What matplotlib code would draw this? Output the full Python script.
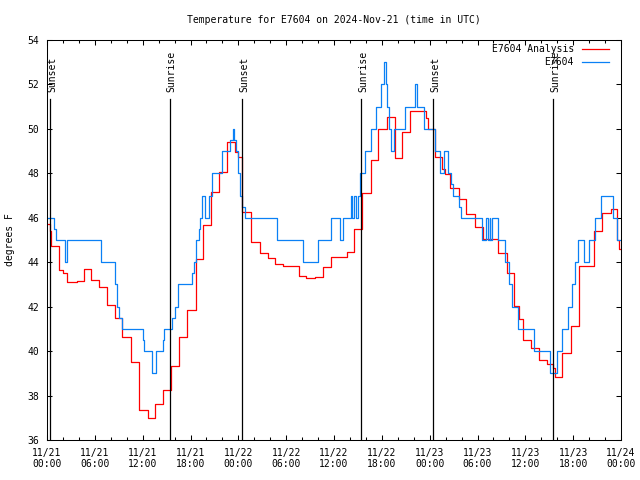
import numpy as np
import pandas as pd
import matplotlib
matplotlib.use("Agg")
import matplotlib.pyplot as plt
import matplotlib.dates as mdates

# hours after 2024-11-21 00:00 UTC, value holds until the next step
obs_hours = [0.00, 0.92, 1.19, 2.30, 2.57, 6.74, 8.53, 8.78, 9.03, 9.35,
             12.00, 12.17, 13.21, 13.64, 14.55, 14.68, 15.68, 16.06, 16.43, 18.23,
             18.38, 18.69, 19.07, 19.19, 19.41, 19.82, 20.26, 20.74, 21.99, 22.96,
             23.27, 23.46, 23.71, 24.02, 24.27, 24.52, 24.84, 28.81, 32.07, 34.03,
             35.59, 36.75, 37.17, 38.13, 38.32, 38.51, 38.70, 38.95, 39.26, 39.89,
             40.64, 41.27, 41.90, 42.33, 42.52, 42.71, 42.84, 43.09, 43.53, 44.91,
             46.10, 46.35, 47.35, 48.61, 49.30, 49.86, 50.24, 50.68, 50.93, 51.74,
             51.93, 54.53, 55.07, 55.26, 55.51, 55.63, 55.78, 56.61, 57.39, 57.89,
             58.27, 59.14, 61.09, 63.10, 63.91, 64.66, 65.35, 65.86, 66.23, 66.61,
             67.30, 67.99, 68.74, 69.49, 70.96, 71.44, 71.88]
obs_temp = [46, 45.5, 45, 44, 45, 44, 43, 42, 41.5, 41,
            40.5, 40, 39, 40, 40.5, 41, 41.5, 42, 43, 43.5,
            44, 45, 45.5, 46, 47, 46, 47, 48, 49, 49.5,
            50, 49.5, 49, 48, 47, 46.5, 46, 45, 44, 45,
            46, 45, 46, 47, 46, 47, 46, 47, 48, 49,
            50, 51, 52, 53, 52, 51, 50, 49, 50, 51,
            52, 51, 50, 49, 48, 49, 48, 47.5, 47, 46.5,
            46, 45, 46, 45, 46, 45, 46, 45, 44, 43,
            42, 41, 40, 39, 40, 41, 42, 43, 44, 45,
            44, 45, 46, 47, 46, 45, 45]

ana_hours = [0.00, 0.34, 0.56, 1.51, 2.04, 2.51, 3.73, 4.58, 5.46, 6.46,
             7.53, 8.59, 9.35, 10.54, 11.60, 12.61, 13.55, 14.55, 15.55, 16.56,
             17.56, 18.63, 19.51, 20.57, 21.58, 22.58, 23.64, 23.90, 24.40, 25.59,
             26.66, 27.66, 28.66, 29.64, 31.67, 32.53, 33.56, 34.56, 35.62, 37.63,
             38.51, 39.51, 40.64, 41.58, 42.65, 43.59, 44.59, 45.53, 47.48, 47.79,
             48.61, 49.49, 49.92, 50.55, 51.62, 52.56, 53.63, 54.63, 56.57, 57.64,
             58.64, 59.21, 59.71, 60.65, 61.72, 62.72, 63.47, 63.66, 64.66, 65.67,
             66.67, 68.61, 69.62, 70.75, 71.50, 71.79, 71.88]
ana_temp = [45.7, 45.4, 44.73, 43.65, 43.5, 43.1, 43.15, 43.68, 43.2, 42.87,
            42.06, 41.48, 40.65, 39.5, 37.35, 36.97, 37.6, 38.25, 39.33, 40.62,
            41.84, 44.15, 45.68, 47.15, 48.08, 49.4, 48.95, 48.75, 46.27, 44.93,
            44.4, 44.18, 43.9, 43.83, 43.38, 43.28, 43.32, 43.77, 44.25, 44.48,
            45.5, 47.1, 48.6, 49.98, 50.52, 48.68, 49.88, 50.82, 50.5, 50.0,
            48.72, 48.2, 47.97, 47.33, 46.83, 46.17, 45.6, 45.03, 44.4, 43.53,
            42.03, 41.43, 40.5, 40.13, 39.6, 39.42, 39.26, 38.82, 39.9, 41.15,
            43.83, 45.4, 46.23, 46.38, 45.0, 44.6, 44.6]

sun_hours = [0.42, 15.39, 24.50, 39.43, 48.46, 63.50]
sun_labels = ["Sunset", "Sunrise", "Sunset", "Sunrise", "Sunset", "Sunrise"]

start = pd.Timestamp("2024-11-21 00:00")
def to_time(hours):
  return start + pd.to_timedelta(np.array(hours), unit="h")

plt.rcParams['font.family'] = ['DejaVu Sans Mono']
plt.rcParams['font.size'] = 7

fig = plt.figure(figsize=(6.4, 4.8), dpi=100)
ax = fig.add_axes([47/640, 40/480, 574/640, 400/480])

ax.plot(to_time(ana_hours), ana_temp, drawstyle='steps-post', color='#ff0000', lw=0.9, label='E7604 Analysis')
ax.plot(to_time(obs_hours), obs_temp, drawstyle='steps-post', color='#0a80f5', lw=0.9, label='E7604')

# sunrise / sunset markers
for t, lab in zip(to_time(sun_hours), sun_labels):
  ax.plot([t, t], [36, 51.35], color='black', lw=0.9)
  ax.annotate(lab, xy=(t, 51.35), xytext=(1.2, 5), textcoords='offset points',
              rotation=90, ha='center', va='bottom', fontsize=7)

ax.set_xlim(start, start + pd.Timedelta(hours=72))
ax.set_ylim(36, 54)
ax.set_yticks(np.arange(36, 55, 2))
ax.xaxis.set_major_locator(mdates.HourLocator(byhour=[0, 6, 12, 18]))
ax.xaxis.set_minor_locator(mdates.HourLocator(byhour=range(0, 24, 2)))
ax.xaxis.set_major_formatter(mdates.DateFormatter('%m/%d\n%H:%M'))

ax.tick_params(which='both', direction='in', top=True, right=True, width=0.75)
ax.tick_params(which='major', length=3.6)
ax.tick_params(which='minor', length=2)
ax.tick_params(axis='x', pad=5.5)
ax.tick_params(axis='y', pad=5.4)
for s in ax.spines.values():
  s.set_linewidth(0.75)

ax.set_ylabel('degrees F')
ax.yaxis.set_label_coords(-0.056, 0.5)
ax.set_title('Temperature for E7604 on 2024-Nov-21 (time in UTC)', pad=12.5, fontsize=7)

ax.legend(loc='upper right', bbox_to_anchor=(0.9796, 0.99), frameon=False, markerfirst=False,
          borderpad=0, borderaxespad=0, handlelength=2.85, handletextpad=0.8, labelspacing=0.3)

fig.savefig('out.png', dpi=100)
